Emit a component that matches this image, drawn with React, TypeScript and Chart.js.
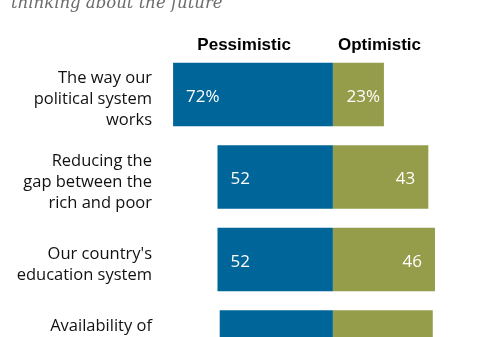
import React, { useEffect, useRef } from "react";
import { Chart, registerables } from "chart.js";

Chart.register(...registerables);

const titleText = "thinking about the future";
const seriesNames = ["Pessimistic", "Optimistic"];
const categories: string[][] = [
  ["The way our", "political system", "works"],
  ["Reducing the", "gap between the", "rich and poor"],
  ["Our country's", "education system"],
  ["Availability of", "good-paying", "jobs"],
];
const pessimistic = [72, 52, 52, 51];
const optimistic = [23, 43, 46, 45];
const pessimisticLabels = ["72%", "52", "52", "51"];
const optimisticLabels = ["23%", "43", "46", "45"];
const headerAnchors = [-40, 21];

const BLUE = "#006598";
const GREEN = "#959d4b";

const overlayPlugin = {
  id: "overlay",
  afterDatasetsDraw(chart: any) {
    const ctx: CanvasRenderingContext2D = chart.ctx;
    const xs = chart.scales.x;
    ctx.save();
    // title (partially cropped)
    ctx.fillStyle = "#6b6b6b";
    ctx.font = "italic 16.5px 'DejaVu Serif'";
    ctx.textAlign = "left";
    ctx.textBaseline = "alphabetic";
    ctx.fillText(titleText, 11, 7.5);

    // series headers
    ctx.fillStyle = "#000";
    ctx.font = "bold 17px 'Liberation Sans'";
    ctx.textAlign = "center";
    seriesNames.forEach((n, i) => {
      ctx.fillText(n, xs.getPixelForValue(headerAnchors[i]), 50);
    });

    const m0 = chart.getDatasetMeta(0);
    const m1 = chart.getDatasetMeta(1);
    categories.forEach((lines, i) => {
      const bar0 = m0.data[i];
      const bar1 = m1.data[i];
      const cy = bar0.y;
      // category label
      ctx.fillStyle = "#111";
      ctx.font = "16.5px 'Open Sans'";
      ctx.textAlign = "right";
      const lh = 21;
      const start = cy + 4 - ((lines.length - 1) * lh) / 2;
      lines.forEach((ln, j) => {
        ctx.fillText(ln, 152, start + j * lh + 5.9);
      });
      // value labels
      ctx.fillStyle = "#fff";
      ctx.font = "17px 'Open Sans'";
      const left = Math.min(bar0.x, bar0.base);
      ctx.textAlign = "left";
      ctx.fillText(pessimisticLabels[i], left + 13, cy + 7);
      const right = Math.max(bar1.x, bar1.base);
      const w = Math.abs(bar1.x - bar1.base);
      const tw = ctx.measureText(optimisticLabels[i]).width;
      ctx.textAlign = "right";
      const inset = w < tw + 26 ? 4 : 13;
      ctx.fillText(optimisticLabels[i], right - inset, cy + 7);
    });
    ctx.restore();
  },
};

export default function App() {
  const ref = useRef<HTMLCanvasElement>(null);
  useEffect(() => {
    if (!ref.current) return;
    const chart = new Chart(ref.current, {
      type: "bar",
      data: {
        labels: categories.map((c) => c.join(" ")),
        datasets: [
          {
            label: seriesNames[0],
            data: pessimistic.map((v) => -v),
            backgroundColor: BLUE,
            stack: "s",
            barPercentage: 1,
            categoryPercentage: 0.77,
          },
          {
            label: seriesNames[1],
            data: optimistic,
            backgroundColor: GREEN,
            stack: "s",
            barPercentage: 1,
            categoryPercentage: 0.77,
          },
        ],
      },
      options: {
        indexAxis: "y",
        animation: false,
        responsive: false,
        layout: { padding: { top: 53.25, bottom: 6.75, left: 0, right: 0 } },
        scales: {
          x: { display: false, stacked: true, min: -150, max: 73.5 },
          y: { display: false, stacked: true },
        },
        plugins: {
          legend: { display: false },
          title: { display: false },
          tooltip: { enabled: false },
        },
      },
      plugins: [overlayPlugin],
    });
    return () => chart.destroy();
  }, []);
  return (
    <div
      style={{
        position: "fixed",
        left: 0,
        top: 0,
        width: 496,
        height: 337,
        overflow: "hidden",
        background: "#fff",
      }}
    >
      <canvas ref={ref} width={496} height={390} style={{ width: 496, height: 390, display: "block" }} />
    </div>
  );
}
